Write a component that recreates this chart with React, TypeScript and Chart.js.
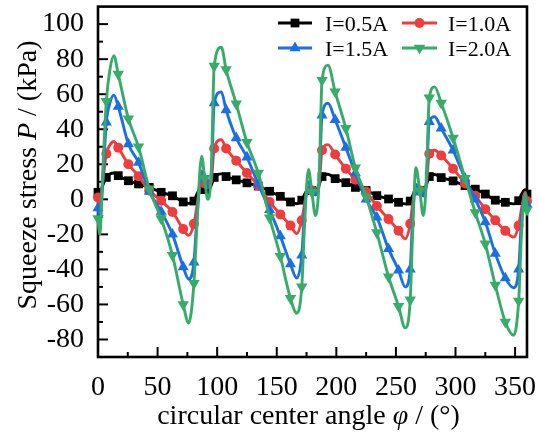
import { useEffect, useRef } from 'react';
import { Chart, registerables } from 'chart.js';
import { drawPoint } from 'chart.js/helpers';

Chart.register(...registerables);

// circular center angle (deg)
const ANGLE = [
  0, 1.5, 4, 7, 10, 13.3, 17, 25.5, 34, 43, 53, 62.5, 71.5, 76, 80.5, 83, 87, 89.5, 92, 95,
  97.5, 103.5, 107.5, 116, 125, 134.5, 144, 153, 161.5, 166.8, 171, 173.5, 176.6, 179.5, 182.5, 185.5,
  188, 193, 199, 208, 216, 225, 234, 243.8, 252.2, 257.8, 262, 264, 266.8, 270, 273, 275.5,
  278, 282.5, 288, 298, 308, 316.6, 325, 333.4, 341.8, 348.8, 353, 355.5, 358.6, 360,
];

// squeeze stress (kPa)
const I05 = [
  4, 3, 8, 12.5, 14.5, 15, 13.5, 10.6, 8.8, 6.8, 4, 2, -1.5, -2.3, -1, 3, 6.7, 5.5, 4.5, 8,
  12.5, 14.5, 13, 11.1, 9.4, 7.6, 4.6, 1.7, -1.5, -2.5, -0.5, 3, 6, 5, 4, 8,
  13, 14.3, 11.8, 9.5, 6.8, 5, 2.1, 0.2, -1.7, -2.6, -1, 2, 6, 5, 4, 8,
  13, 14.2, 12.4, 10.5, 7.8, 5.8, 3, -0.5, -1.7, -2.6, -0.8, 3, 5.5, 3,
];
const I10 = [
  1, -4.6, 10, 26, 31, 33, 29.5, 20, 13.2, 5, -0.8, -7.2, -17, -20.6, -14, -4, 10, 9, 6.6, 10,
  29, 34, 29, 22, 15, 7.8, -1.5, -8.6, -15, -19.6, -12, -2, 7, 5, 3, 8,
  28, 31.2, 25.6, 17.5, 11.2, 4.3, -3.8, -11.3, -17.9, -22.6, -14, -3, 8, 5, 2, 8,
  26, 28, 25, 17.5, 9, 2, -5.6, -12, -18, -21.6, -15, -5, 4, -1,
];
const I15 = [
  -5, -12, 10, 44, 55, 59.5, 53, 31.6, 21, 4.5, -7, -20, -38.6, -45.5, -36, -10, 16, 12, 6.6, 12,
  55, 61.3, 51, 35, 24, 8.6, -6, -21, -37, -45, -32, -5, 10, 5, 2.5, 10,
  48, 54.8, 45.4, 29.5, 15, 0, -10.3, -28.3, -40.5, -50, -40, -10, 8.5, 4, 1.9, 10,
  44.3, 47.1, 40.5, 28, 12, 0, -13, -31, -45, -50.5, -40, -10, 3, -3,
];
const I20 = [
  -11, -20, 16, 56, 74, 82, 71.5, 46, 30, 6, -11, -32, -60, -70.6, -48, -15, 24.6, 12, 0, 15,
  76, 86.8, 74, 54.5, 32.5, 15, -10.5, -32.5, -56.5, -65, -50, -12, 17, 4, -9.3, 10,
  68, 76.5, 61.4, 40.5, 18, 1.5, -19, -44.2, -61, -73.4, -57.4, -20, 18, 5, -9.3, 10,
  58, 64.2, 55, 35, 12, -7.5, -25.4, -49, -70, -77.6, -58, -18, 3, -6,
];

// angles where a symbol is plotted
const MARKER_ANGLES = [
  0, 7, 17, 25.5, 34, 43, 53, 62.5, 71.5, 80.5, 89.5, 97.5, 107.5, 116, 125, 134.5, 144, 153,
  161.5, 171, 179.5, 188, 199, 208, 216, 225, 234, 243.8, 252.2, 262, 270, 278, 288, 298, 308,
  316.6, 325, 333.4, 341.8, 353, 360,
];

const LABELS = ['I=0.5A', 'I=1.0A', 'I=1.5A', 'I=2.0A'];
const X_TICKS = [0, 50, 100, 150, 200, 250, 300, 350];
const Y_TICKS = [-80, -60, -40, -20, 0, 20, 40, 60, 80, 100];

const FONT = "'Liberation Serif', 'Times New Roman', serif";
const COLORS = ['#000000', '#F03C3C', '#1C6FE0', '#37AB69'];
const STYLES: any[] = ['rect', 'circle', 'triangle', 'triangle'];
const ROT = [0, 0, 0, 180];
const RADII = [6.2, 5, 6.4, 6.6];

function drawSegments(ctx: CanvasRenderingContext2D, segs: [string, boolean][], size: number, cx: number, cy: number) {
  const fonts = segs.map(([, it]) => `${it ? 'italic ' : ''}${size}px ${FONT}`);
  let total = 0;
  const widths = segs.map(([t], i) => {
    ctx.font = fonts[i];
    const w = ctx.measureText(t).width;
    total += w;
    return w;
  });
  let x = cx - total / 2;
  ctx.textAlign = 'left';
  ctx.textBaseline = 'alphabetic';
  segs.forEach(([t], i) => {
    ctx.font = fonts[i];
    ctx.fillText(t, x, cy);
    x += widths[i];
  });
}

const decor = {
  id: 'decor',
  beforeDatasetsDraw(chart: any) {
    const { ctx, chartArea: a, scales } = chart;
    const sx = scales.x;
    const sy = scales.y;
    ctx.save();
    ctx.strokeStyle = '#000';
    ctx.lineWidth = 2;
    ctx.lineCap = 'butt';
    const seg = (x1: number, y1: number, x2: number, y2: number) => {
      ctx.beginPath();
      ctx.moveTo(x1, y1);
      ctx.lineTo(x2, y2);
      ctx.stroke();
    };
    X_TICKS.forEach((v, i) => {
      const px = sx.getPixelForValue(v);
      seg(px, a.bottom, px, a.bottom - 10);
      if (i < X_TICKS.length - 1) {
        const pm = sx.getPixelForValue((v + X_TICKS[i + 1]) / 2);
        seg(pm, a.bottom, pm, a.bottom - 5);
      }
    });
    Y_TICKS.forEach((v, i) => {
      const py = sy.getPixelForValue(v);
      seg(a.left, py, a.left + 10, py);
      if (i < Y_TICKS.length - 1) {
        const pm = sy.getPixelForValue((v + Y_TICKS[i + 1]) / 2);
        seg(a.left, pm, a.left + 5, pm);
      }
    });
    ctx.lineWidth = 2.6;
    ctx.strokeRect(a.left, a.top, a.right - a.left, a.bottom - a.top);
    ctx.restore();
  },
  afterDraw(chart: any) {
    const { ctx } = chart;
    ctx.save();
    ctx.fillStyle = '#000';
    drawSegments(ctx, [['circular center angle ', false], ['φ', true], [' / (°)', false]], 28, 308.5, 424);
    ctx.save();
    ctx.translate(36, 175);
    ctx.rotate(-Math.PI / 2);
    drawSegments(ctx, [['Squeeze stress ', false], ['P', true], [' / (kPa)', false]], 28, 0, 0);
    ctx.restore();
    const cols = [
      { x0: 278, x1: 312, tx: 325 },
      { x0: 402, x1: 437, tx: 448 },
    ];
    const rows = [23, 48];
    LABELS.forEach((lab, i) => {
      const c = cols[i % 2];
      const y = rows[Math.floor(i / 2)];
      ctx.strokeStyle = COLORS[i];
      ctx.lineWidth = 2.9;
      ctx.beginPath();
      ctx.moveTo(c.x0, y);
      ctx.lineTo(c.x1, y);
      ctx.stroke();
      ctx.fillStyle = COLORS[i];
      ctx.strokeStyle = COLORS[i];
      drawPoint(ctx, { pointStyle: STYLES[i], rotation: ROT[i], radius: RADII[i], borderWidth: 0 } as any, (c.x0 + c.x1) / 2, y);
      ctx.fillStyle = '#000';
      ctx.font = `22px ${FONT}`;
      ctx.textAlign = 'left';
      ctx.textBaseline = 'alphabetic';
      ctx.fillText(lab, c.tx, y + 7.5);
    });
    ctx.restore();
  },
};

export default function App() {
  const ref = useRef<HTMLCanvasElement>(null);
  useEffect(() => {
    const series = [I05, I10, I15, I20];
    const markerSet = new Set(MARKER_ANGLES);
    const chart = new Chart(ref.current as HTMLCanvasElement, {
      type: 'line',
      data: {
        datasets: series.map((vals, i) => ({
          label: LABELS[i],
          data: ANGLE.map((x, j) => ({ x, y: vals[j] })),
          borderColor: COLORS[i],
          backgroundColor: COLORS[i],
          borderWidth: 2.9,
          pointStyle: STYLES[i],
          pointRotation: ROT[i],
          pointBorderWidth: 0,
          pointRadius: (ctx: any) => (markerSet.has(ANGLE[ctx.dataIndex]) ? RADII[i] : 0),
          cubicInterpolationMode: 'monotone',
          order: 3 - i,
          clip: false,
        })),
      } as any,
      options: {
        animation: false,
        responsive: false,
        devicePixelRatio: 1,
        layout: { padding: { top: 3, right: 12, left: 0, bottom: 0 } },
        plugins: { legend: { display: false }, tooltip: { enabled: false } },
        scales: {
          x: {
            type: 'linear',
            min: 0,
            max: 360,
            border: { display: false },
            grid: { display: false, drawTicks: false },
            afterBuildTicks: (s: any) => { s.ticks = X_TICKS.map((v) => ({ value: v })); },
            afterFit: (s: any) => { s.height = 80; s.paddingLeft = 0; s.paddingRight = 0; },
            ticks: { color: '#000', font: { family: FONT, size: 28 }, padding: 14, maxRotation: 0, autoSkip: false },
          },
          y: {
            type: 'linear',
            min: -90,
            max: 110,
            border: { display: false },
            grid: { display: false, drawTicks: false },
            afterBuildTicks: (s: any) => { s.ticks = Y_TICKS.map((v) => ({ value: v })); },
            afterFit: (s: any) => { s.width = 98; s.paddingTop = 0; s.paddingBottom = 0; },
            ticks: { color: '#000', font: { family: FONT, size: 28 }, padding: 14, autoSkip: false },
          },
        },
      } as any,
      plugins: [decor],
    });
    return () => chart.destroy();
  }, []);
  return (
    <div style={{ position: 'fixed', left: 0, top: 0, width: 539, height: 437, background: '#fff' }}>
      <canvas ref={ref} width={539} height={437} style={{ width: 539, height: 437, display: 'block' }} />
    </div>
  );
}
